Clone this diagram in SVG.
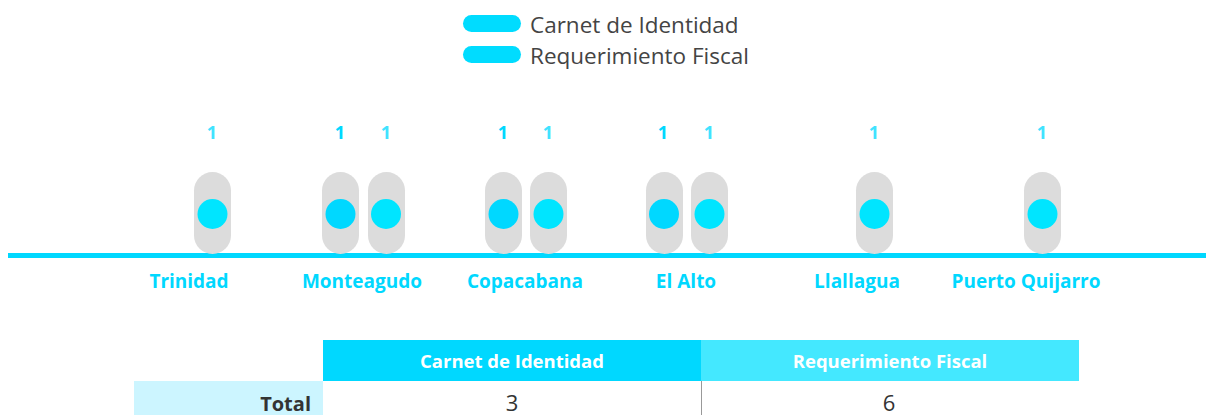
<svg xmlns="http://www.w3.org/2000/svg" width="1206" height="415" viewBox="0 0 1206 415">
<style>
.pill{fill:#dcdcdc}
.ci{fill:#00d8ff}
.rf{fill:#00e5ff}
.num{font-family:"Open Sans","Liberation Sans",sans-serif;font-weight:bold;font-size:18px;text-anchor:middle}
.nci{fill:#00d8ff}
.nrf{fill:#40e3ff}
.loc{font-family:"Open Sans","Liberation Sans",sans-serif;font-weight:bold;font-size:19px;fill:#00d8ff;text-anchor:middle}
.leg{font-family:"Open Sans","Liberation Sans",sans-serif;font-size:22.5px;fill:#444}
.hdr{font-family:"Open Sans","Liberation Sans",sans-serif;font-weight:bold;font-size:18.5px;fill:#fff;text-anchor:middle}
.val{font-family:"Open Sans","Liberation Sans",sans-serif;font-size:22px;fill:#333;text-anchor:middle}
</style>
<rect width="1206" height="415" fill="#fff"/>
<g id="legend">
<rect x="463" y="15" width="58" height="17" rx="8.5" fill="#00dcff"/>
<text class="leg" x="530" y="33">Carnet de Identidad</text>
<rect x="463" y="46" width="58" height="17" rx="8.5" fill="#00dcff"/>
<text class="leg" x="530" y="64">Requerimiento Fiscal</text>
</g>
<g id="connectors">
<rect x="8" y="253" width="1198" height="5" fill="#00d8ff"/>
</g>
<g id="trinidad">
<text class="num nrf" x="212" y="139">1</text>
<rect class="pill" x="194" y="172" width="37" height="82" rx="18.5"/>
<circle class="rf" cx="212.5" cy="214" r="15"/>
<text class="loc" x="189" y="288">Trinidad</text>
</g>
<g id="monteagudo">
<text class="num nci" x="340" y="139">1</text>
<text class="num nrf" x="386" y="139">1</text>
<rect class="pill" x="322" y="172" width="37" height="82" rx="18.5"/>
<circle class="ci" cx="340.5" cy="214" r="15"/>
<rect class="pill" x="368" y="172" width="37" height="82" rx="18.5"/>
<circle class="rf" cx="386" cy="214" r="15"/>
<text class="loc" x="362" y="288">Monteagudo</text>
</g>
<g id="copacabana">
<text class="num nci" x="503" y="139">1</text>
<text class="num nrf" x="548" y="139">1</text>
<rect class="pill" x="485" y="172" width="37" height="82" rx="18.5"/>
<circle class="ci" cx="503.5" cy="214" r="15"/>
<rect class="pill" x="530" y="172" width="37" height="82" rx="18.5"/>
<circle class="rf" cx="548.5" cy="214" r="15"/>
<text class="loc" x="525" y="288">Copacabana</text>
</g>
<g id="elalto">
<text class="num nci" x="663" y="139">1</text>
<text class="num nrf" x="709" y="139">1</text>
<rect class="pill" x="646" y="172" width="37" height="82" rx="18.5"/>
<circle class="ci" cx="664" cy="214" r="15"/>
<rect class="pill" x="691" y="172" width="37" height="82" rx="18.5"/>
<circle class="rf" cx="709.5" cy="214" r="15"/>
<text class="loc" x="686" y="288">El Alto</text>
</g>
<g id="llallagua">
<text class="num nrf" x="874" y="139">1</text>
<rect class="pill" x="856" y="172" width="37" height="82" rx="18.5"/>
<circle class="rf" cx="874.5" cy="214" r="15"/>
<text class="loc" x="857" y="288">Llallagua</text>
</g>
<g id="puertoquijarro">
<text class="num nrf" x="1042" y="139">1</text>
<rect class="pill" x="1024" y="172" width="37" height="82" rx="18.5"/>
<circle class="rf" cx="1042.5" cy="214" r="15"/>
<text class="loc" x="1026" y="288">Puerto Quijarro</text>
</g>
<g id="table">
<rect x="323" y="340" width="378" height="41" fill="#00d8ff"/>
<rect x="701" y="340" width="378" height="41" fill="#44e8ff"/>
<text class="hdr" x="512" y="368">Carnet de Identidad</text>
<text class="hdr" x="890" y="368">Requerimiento Fiscal</text>
<rect x="134" y="381" width="189" height="34" fill="#ccf5ff"/>
<text x="311" y="411" font-family="'Open Sans','Liberation Sans',sans-serif" font-weight="bold" font-size="20" fill="#333" text-anchor="end">Total</text>
<line x1="701.5" y1="381" x2="701.5" y2="415" stroke="#999" stroke-width="1"/>
<text class="val" x="512" y="411">3</text>
<text class="val" x="889" y="411">6</text>
</g>
</svg>
